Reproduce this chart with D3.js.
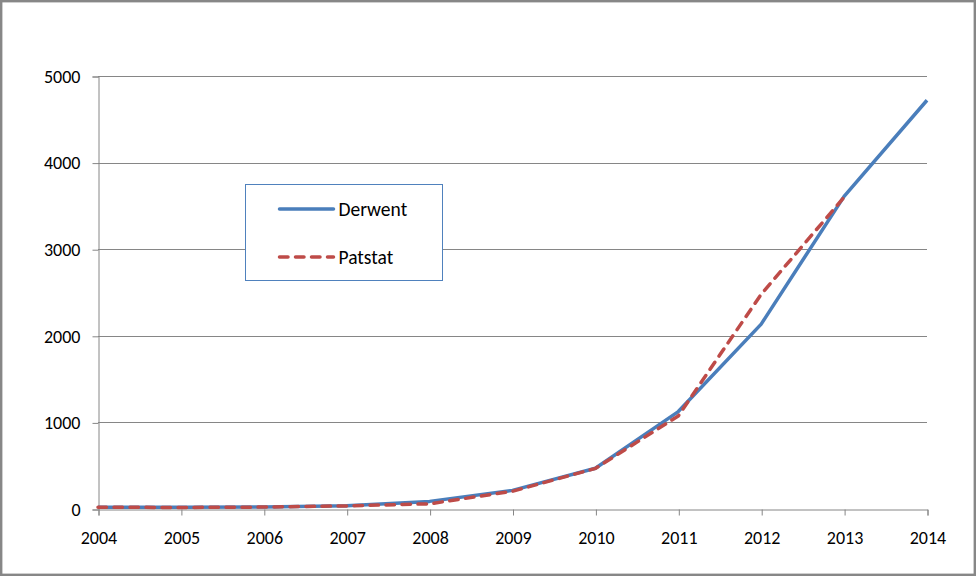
<!DOCTYPE html>
<html>
<head>
<meta charset="utf-8">
<script src="https://cdn.jsdelivr.net/npm/d3@7"></script>
<style>
  body { margin: 0; background: #fff; }
  svg { display: block; font-family: Carlito, Calibri, Lato, sans-serif; }
</style>
</head>
<body>
<div id="chart"></div>
<script>
const years = [2004, 2005, 2006, 2007, 2008, 2009, 2010, 2011, 2012, 2013, 2014];
const derwent = [20, 20, 22, 38, 88, 215, 470, 1125, 2135, 3610, 4720];
const patstat = [20, 18, 22, 36, 60, 205, 468, 1075, 2480, 3600, null];
const yTicks = [0, 1000, 2000, 3000, 4000, 5000];

const width = 977, height = 577;
const margin = { left: 98, right: 50, top: 76, bottom: 68 };
const fontFam = "Carlito, Calibri, Lato, sans-serif";

const svg = d3.select("#chart")
    .append("svg")
    .attr("width", width)
    .attr("height", height);

// outer frame
svg.append("rect")
    .attr("x", 1.2).attr("y", 1.2)
    .attr("width", width - 3.4).attr("height", height - 3.4)
    .attr("fill", "#fff")
    .attr("stroke", "#878787")
    .attr("stroke-width", 2.4);

const x = d3.scaleLinear()
    .domain([years[0], years[years.length - 1]])
    .range([margin.left, width - margin.right]);

const y = d3.scaleLinear()
    .domain([0, 5000])
    .range([height - margin.bottom, margin.top]);

// gridlines
svg.append("g")
    .selectAll("line")
    .data(yTicks.slice(1))
    .enter()
    .append("line")
    .attr("x1", margin.left).attr("x2", width - margin.right)
    .attr("y1", d => Math.round(y(d)) + 0.5).attr("y2", d => Math.round(y(d)) + 0.5)
    .attr("stroke", "#868686");

// y axis
const yAxis = svg.append("g")
    .attr("transform", `translate(${margin.left + 0.5},0.5)`)
    .call(d3.axisLeft(y).tickValues(yTicks).tickSize(6).tickPadding(12).tickFormat(d3.format("d")));

// x axis
const xAxis = svg.append("g")
    .attr("transform", `translate(0.5,${Math.round(y(0)) + 0.5})`)
    .call(d3.axisBottom(x).tickValues(years).tickSize(6).tickPadding(16).tickFormat(d3.format("d")));

[yAxis, xAxis].forEach(ax => {
    ax.attr("font-size", null).attr("font-family", null);
    ax.select(".domain").attr("stroke", "#868686");
    ax.selectAll(".tick line").attr("stroke", "#868686");
    ax.selectAll("text")
        .attr("fill", "#000")
        .style("font-size", "18px")
        .style("font-family", fontFam);
});

const line = d3.line()
    .defined(d => d[1] !== null)
    .x(d => x(d[0]))
    .y(d => y(d[1]));

svg.append("path")
    .datum(years.map((yr, i) => [yr, derwent[i]]))
    .attr("d", line)
    .attr("fill", "none")
    .attr("stroke", "#4A7EBB")
    .attr("stroke-width", 3.5)
    .attr("stroke-linejoin", "round");

svg.append("path")
    .datum(years.map((yr, i) => [yr, patstat[i]]))
    .attr("d", line)
    .attr("fill", "none")
    .attr("stroke", "#BE4B48")
    .attr("stroke-width", 3.5)
    .attr("stroke-linecap", "round")
    .attr("stroke-dasharray", "8.5,7.5");

// legend
const legend = svg.append("g").attr("transform", "translate(245.5,184.5)");
legend.append("rect")
    .attr("width", 197).attr("height", 96)
    .attr("fill", "#fff")
    .attr("stroke", "#4F81BD")
    .attr("stroke-width", 1);

const legendItems = [
    { label: "Derwent", color: "#4A7EBB", dash: null, yy: 24.5 },
    { label: "Patstat", color: "#BE4B48", dash: "8.5,7.5", yy: 72.5 }
];

const item = legend.selectAll(".item")
    .data(legendItems)
    .enter()
    .append("g")
    .attr("class", "item")
    .attr("transform", d => `translate(0,${d.yy})`);

item.append("line")
    .attr("x1", 34).attr("x2", 88)
    .attr("stroke", d => d.color)
    .attr("stroke-width", 3.5)
    .attr("stroke-linecap", "round")
    .attr("stroke-dasharray", d => d.dash);

item.append("text")
    .attr("x", 93)
    .attr("dy", "0.35em")
    .style("font-size", "19.5px")
    .style("font-family", fontFam)
    .attr("fill", "#000")
    .text(d => d.label);
</script>
</body>
</html>
